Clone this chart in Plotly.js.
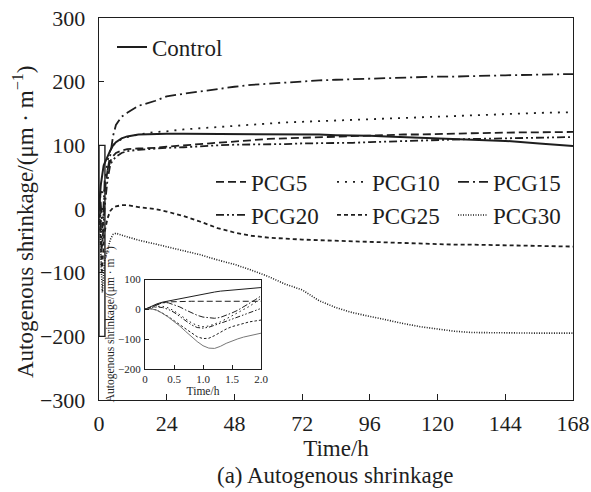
<!DOCTYPE html>
<html>
<head>
<meta charset="utf-8">
<script src="https://cdn.plot.ly/plotly-3.0.1.min.js"></script>
<style>html,body{margin:0;padding:0;background:#fff;}#chart{width:591px;height:492px;}</style>
</head>
<body>
<div id="chart"></div>
<script>
// Early period (0-2 h), shown in the inset
const tEarly = [0,0.1,0.2,0.3,0.4,0.5,0.6,0.7,0.8,0.9,1.0,1.1,1.2,1.3,1.4,1.5,1.6,1.7,1.8,1.9,2.0];
const controlEarly = [0,10,18,24,28,32,36,40,44,48,52,55,58,61,63,65,67,69,70,72,73];
const pcg5Early    = [0,8,16,22,25,26,27,27,27,27,27,27,27,27,27,27,27,27,26,25,27];
const pcg10Early   = [0,6,10,10,5,-5,-18,-32,-45,-54,-58,-56,-50,-42,-32,-22,-12,-2,10,23,37];
const pcg15Early   = [0,8,16,22,22,16,8,-2,-12,-20,-26,-29,-30,-27,-20,-12,-3,8,20,32,45];
const pcg20Early   = [0,5,8,6,0,-10,-24,-38,-52,-61,-63,-60,-54,-47,-40,-33,-26,-19,-12,-5,3];
const pcg25Early   = [0,2,-2,-12,-24,-38,-52,-66,-80,-92,-98,-97,-88,-76,-66,-58,-52,-47,-42,-39,-36];
const pcg30Early   = [0,2,-3,-13,-26,-40,-56,-74,-92,-108,-122,-130,-131,-124,-114,-106,-99,-93,-88,-84,-80];

// Later period (after 2 h)
const tLate = [3,4,5,6,8,10,14,20,24,30,36,42,48,54,60,66,72,78,84,90,96,102,108,114,120,126,132,144,156,168];
const controlLate = [82,92,100,105,111,114,117,118,118,118,118,118,118,118,118,117,117,117,116,116,115,114,113,112,111,110,109,107,103,99];
const pcg5Late    = [60,75,83,88,92,94,95,96,98,100,103,105,107,108,110,111,112,113,114,115,116,116,117,117,118,118,119,120,120,121];
const pcg10Late   = [75,92,100,104,110,113,117,121,122,125,127,129,131,133,134,136,137,138,139,140,141,142,144,145,146,147,148,150,151,152];
const pcg15Late   = [60,85,115,132,145,151,162,170,177,181,185,189,192,195,197,199,201,202,203,204,205,206,207,207,208,208,209,210,211,212];
const pcg20Late   = [45,70,77,82,88,91,93,95,96,97,99,100,101,101,102,102,103,103,104,104,105,106,107,108,109,109,110,111,112,113];
const pcg25Late   = [-15,-3,2,4,6,6,3,0,-4,-11,-20,-30,-37,-42,-45,-47,-48,-49,-50,-51,-52,-53,-54,-54,-55,-56,-56,-57,-58,-59];
const pcg30Late   = [-65,-48,-40,-38,-41,-44,-49,-55,-59,-65,-72,-80,-87,-96,-106,-118,-127,-144,-155,-163,-169,-175,-180,-185,-189,-192,-194,-195,-195,-195];

const xTickVals = [0,24,48,72,96,120,144,168];
const yTickVals = [-300,-200,-100,0,100,200,300];
const insetXTickVals = [0,0.5,1.0,1.5,2.0];
const insetXTickText = ['0','0.5','1.0','1.5','2.0'];
const insetYTickVals = [-200,-100,0,100];

const names = ['Control','PCG5','PCG10','PCG15','PCG20','PCG25','PCG30'];
const early = [controlEarly,pcg5Early,pcg10Early,pcg15Early,pcg20Early,pcg25Early,pcg30Early];
const late  = [controlLate,pcg5Late,pcg10Late,pcg15Late,pcg20Late,pcg25Late,pcg30Late];

const ink = '#1e1e1e';
const dashes = ['solid','8px,4px','2px,6px','11px,4px,2px,4px','8px,3px,2px,3px,2px,3px','4px,3px','1px,1.5px'];
const widths = [2,1.8,1.8,1.8,1.8,1.8,1.6];
const legendOf = ['legend','legend2','legend2','legend2','legend3','legend3','legend3'];
const insetDashes = ['solid','6px,3px','1.5px,3px','6px,2px,1.5px,2px','5px,2px,1.5px,2px,1.5px,2px','2.5px,2px','solid'];
const insetColors = [ink,ink,ink,ink,ink,ink,'#777'];

const tAll = tEarly.concat(tLate);
const traces = [];
names.forEach((n,i)=>{
  traces.push({
    x: tAll, y: early[i].concat(late[i]), name: n, type:'scatter', mode:'lines',
    line:{color:ink, width:widths[i], dash:dashes[i]},
    legend: legendOf[i], xaxis:'x', yaxis:'y', hoverinfo:'skip'
  });
});
names.forEach((n,i)=>{
  traces.push({
    x: tEarly, y: early[i], name: n, type:'scatter', mode:'lines',
    line:{color:insetColors[i], width:1, dash:insetDashes[i]},
    showlegend:false, xaxis:'x2', yaxis:'y2', hoverinfo:'skip'
  });
});

const serif = '"Liberation Serif"';
const W = 591, H = 492, L = 99, R = 18, T = 18, B = 92;
const pw = W - L - R, ph = H - T - B;
const px2x = p => (p - L)/pw;
const px2y = p => (H - B - p)/ph;

const legendBase = {
  orientation:'h', xanchor:'left', yanchor:'middle', bgcolor:'rgba(0,0,0,0)',
  borderwidth:0, font:{family:serif, size:23, color:ink}, entrywidth:76, entrywidthmode:'pixels',
  traceorder:'normal'
};

const layout = {
  width:W, height:H,
  margin:{l:L, r:R, t:T, b:B, pad:0},
  paper_bgcolor:'#fff', plot_bgcolor:'#fff',
  font:{family:serif, color:ink, size:22},
  showlegend:true,
  legend: Object.assign({}, legendBase, {x:px2x(112), y:px2y(47), orientation:'v'}),
  legend2: Object.assign({}, legendBase, {x:px2x(211), y:px2y(182)}),
  legend3: Object.assign({}, legendBase, {x:px2x(211), y:px2y(215)}),
  xaxis:{
    range:[0,168], tickvals:xTickVals, ticks:'inside', ticklen:6, tickwidth:1.2, tickcolor:ink,
    showline:true, linecolor:ink, linewidth:1.3, mirror:true, showgrid:false, zeroline:false,
    tickfont:{family:serif, size:22, color:ink}, ticklabelstandoff:3,
    title:{text:'Time/h', font:{family:serif, size:23, color:ink}, standoff:4},
    domain:[0,1], anchor:'y'
  },
  yaxis:{
    range:[-300,300], tickvals:yTickVals, ticks:'inside', ticklen:5, tickwidth:1.2, tickcolor:ink,
    showline:true, linecolor:ink, linewidth:1.3, mirror:true, showgrid:false, zeroline:false,
    tickfont:{family:serif, size:22, color:ink}, ticklabelstandoff:8,
    domain:[0,1], anchor:'x'
  },
  xaxis2:{
    range:[0,2], tickvals:insetXTickVals, ticktext:insetXTickText, ticks:'inside', ticklen:4, tickwidth:1, tickcolor:ink,
    showline:true, linecolor:ink, linewidth:1, mirror:true, showgrid:false, zeroline:false,
    tickfont:{family:serif, size:11, color:ink}, ticklabelstandoff:0,
    title:{text:'Time/h', font:{family:serif, size:11.5, color:ink}, standoff:0},
    domain:[px2x(145), px2x(261)], anchor:'y2'
  },
  yaxis2:{
    range:[-200,100], tickvals:insetYTickVals, ticks:'inside', ticklen:4, tickwidth:1, tickcolor:ink,
    showline:true, linecolor:ink, linewidth:1, mirror:true, showgrid:false, zeroline:false,
    tickfont:{family:serif, size:11, color:ink}, ticklabelstandoff:1,
    title:{text:'Autogenous shrinkage/(μm · m<sup>−1</sup>)', font:{family:serif, size:11.5, color:ink}, standoff:1},
    domain:[px2y(369), px2y(279.5)], anchor:'x2'
  },
  shapes:[{type:'rect', xref:'x', yref:'y', x0:0, x1:2.1, y0:-200, y1:100, line:{color:ink, width:1.4}, layer:'above'}],
  annotations:[{
    text:'Autogenous shrinkage/(μm · m<sup>−1</sup>)', xref:'paper', yref:'paper', x:px2x(23), y:px2y(222),
    xanchor:'center', yanchor:'middle', textangle:-90, showarrow:false, font:{family:serif, size:23, color:ink}
  },{
    text:'(a) Autogenous shrinkage', xref:'paper', yref:'paper', x:px2x(335), y:px2y(475),
    xanchor:'center', yanchor:'middle', showarrow:false, font:{family:serif, size:23, color:ink}
  }]
};

Plotly.newPlot('chart', traces, layout, {displayModeBar:false, staticPlot:true});
</script>
</body>
</html>
